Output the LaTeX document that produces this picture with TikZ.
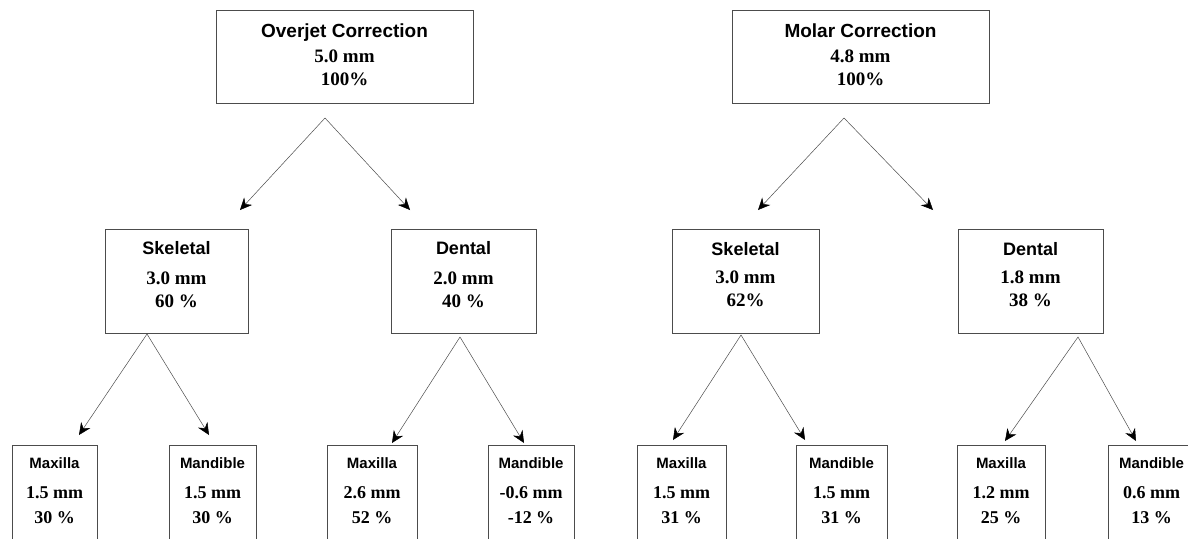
\documentclass[tikz,border=0pt]{standalone}
\usepackage{fontspec}
\setmainfont{Liberation Serif}
\newfontfamily\headsans{Liberation Sans}
\usetikzlibrary{arrows.meta, positioning}
\tikzstyle{arrow} = [line width=0.5pt, draw=black!70, -{Stealth[length=12pt,width=11pt,inset=4pt,color=black]}]
\tikzstyle{topbox} = [rectangle, draw=black!70, line width=0.9pt, minimum width=257pt, minimum height=93pt, align=center, font=\fontsize{19}{23}\selectfont\bfseries]
\tikzstyle{midbox} = [rectangle, draw=black!70, line width=0.9pt, minimum height=104pt, align=center, font=\fontsize{19}{23}\selectfont\bfseries]
\tikzstyle{lowbox} = [rectangle, draw=black!70, line width=0.9pt, anchor=north, minimum height=100pt, align=center, font=\fontsize{18}{25}\selectfont\bfseries]
\newcommand{\boxtitle}[1]{{\headsans\fontsize{19}{22}\selectfont #1}}
\newcommand{\midtitle}[1]{{\headsans\fontsize{18}{22}\selectfont #1}}
\newcommand{\lowtitle}[1]{{\headsans\fontsize{15}{18}\selectfont #1}}
\newcommand{\lift}[1]{\rule[-#1]{0pt}{0pt}}

\begin{document}
\begin{tikzpicture}[x=1pt, y=-1pt]
  \useasboundingbox (0,0) rectangle (1188,538);
  \clip (0,0) rectangle (1188,538);
  % top row
  \node (overjet) [topbox] at (344.5,56.5) {\boxtitle{Overjet Correction}\\[2pt]5.0 mm\\100\%\lift{3pt}};
  \node (molar) [topbox] at (860.5,56.5) {\boxtitle{Molar Correction}\\[2pt]4.8 mm\\100\%\lift{3pt}};
  % middle row
  \node (skelL) [midbox, minimum width=143pt] at (176.5,281) {\midtitle{Skeletal}\\[7pt]3.0 mm\\60 \%\lift{14pt}};
  \node (dentL) [midbox, minimum width=145pt] at (463.5,281) {\midtitle{Dental}\\[7pt]2.0 mm\\40 \%\lift{14pt}};
  \node (skelR) [midbox, minimum width=147pt] at (745.5,281) {\midtitle{Skeletal}\\[5pt]3.0 mm\\62\%\lift{14pt}};
  \node (dentR) [midbox, minimum width=145pt] at (1030.5,281) {\midtitle{Dental}\\[5pt]1.8 mm\\38 \%\lift{14pt}};
  % bottom row
  \node (maxLL) [lowbox, minimum width=85pt] at (54.5,445) {\lowtitle{Maxilla}\\[5pt]1.5 mm\\30 \%\lift{9pt}};
  \node (manLL) [lowbox, minimum width=87pt] at (212.5,445) {\lowtitle{Mandible}\\[5pt]1.5 mm\\30 \%\lift{9pt}};
  \node (maxLD) [lowbox, minimum width=90pt] at (372,445) {\lowtitle{Maxilla}\\[5pt]2.6 mm\\52 \%\lift{9pt}};
  \node (manLD) [lowbox, minimum width=86pt] at (531,445) {\lowtitle{Mandible}\\[5pt]-0.6 mm\\-12 \%\lift{9pt}};
  \node (maxRS) [lowbox, minimum width=89pt] at (681.5,445) {\lowtitle{Maxilla}\\[5pt]1.5 mm\\31 \%\lift{9pt}};
  \node (manRS) [lowbox, minimum width=91pt] at (841.5,445) {\lowtitle{Mandible}\\[5pt]1.5 mm\\31 \%\lift{9pt}};
  \node (maxRD) [lowbox, minimum width=88pt] at (1001,445) {\lowtitle{Maxilla}\\[5pt]1.2 mm\\25 \%\lift{9pt}};
  \node (manRD) [lowbox, minimum width=87pt] at (1151.5,445) {\lowtitle{Mandible}\\[5pt]0.6 mm\\13 \%\lift{9pt}};
  % split points and arrow tips
  \coordinate (ojsplit) at (325,118);
  \coordinate (ojtipL) at (240,210);
  \coordinate (ojtipR) at (410,210);
  \coordinate (mcsplit) at (844,118);
  \coordinate (mctipL) at (758,210);
  \coordinate (mctipR) at (933,210);
  \coordinate (slsplit) at (147,334);
  \coordinate (sltipL) at (79,435);
  \coordinate (sltipR) at (209,435);
  \coordinate (dlsplit) at (460,337);
  \coordinate (dltipL) at (392,443);
  \coordinate (dltipR) at (524,443);
  \coordinate (srsplit) at (741,335);
  \coordinate (srtipL) at (673,440);
  \coordinate (srtipR) at (805,440);
  \coordinate (drsplit) at (1078,337);
  \coordinate (drtipL) at (1005,441);
  \coordinate (drtipR) at (1136,441);
  \draw [arrow] (ojsplit) -- (ojtipL);
  \draw [arrow] (ojsplit) -- (ojtipR);
  \draw [arrow] (mcsplit) -- (mctipL);
  \draw [arrow] (mcsplit) -- (mctipR);
  \draw [arrow] (slsplit) -- (sltipL);
  \draw [arrow] (slsplit) -- (sltipR);
  \draw [arrow] (dlsplit) -- (dltipL);
  \draw [arrow] (dlsplit) -- (dltipR);
  \draw [arrow] (srsplit) -- (srtipL);
  \draw [arrow] (srsplit) -- (srtipR);
  \draw [arrow] (drsplit) -- (drtipL);
  \draw [arrow] (drsplit) -- (drtipR);
\end{tikzpicture}
\end{document}
